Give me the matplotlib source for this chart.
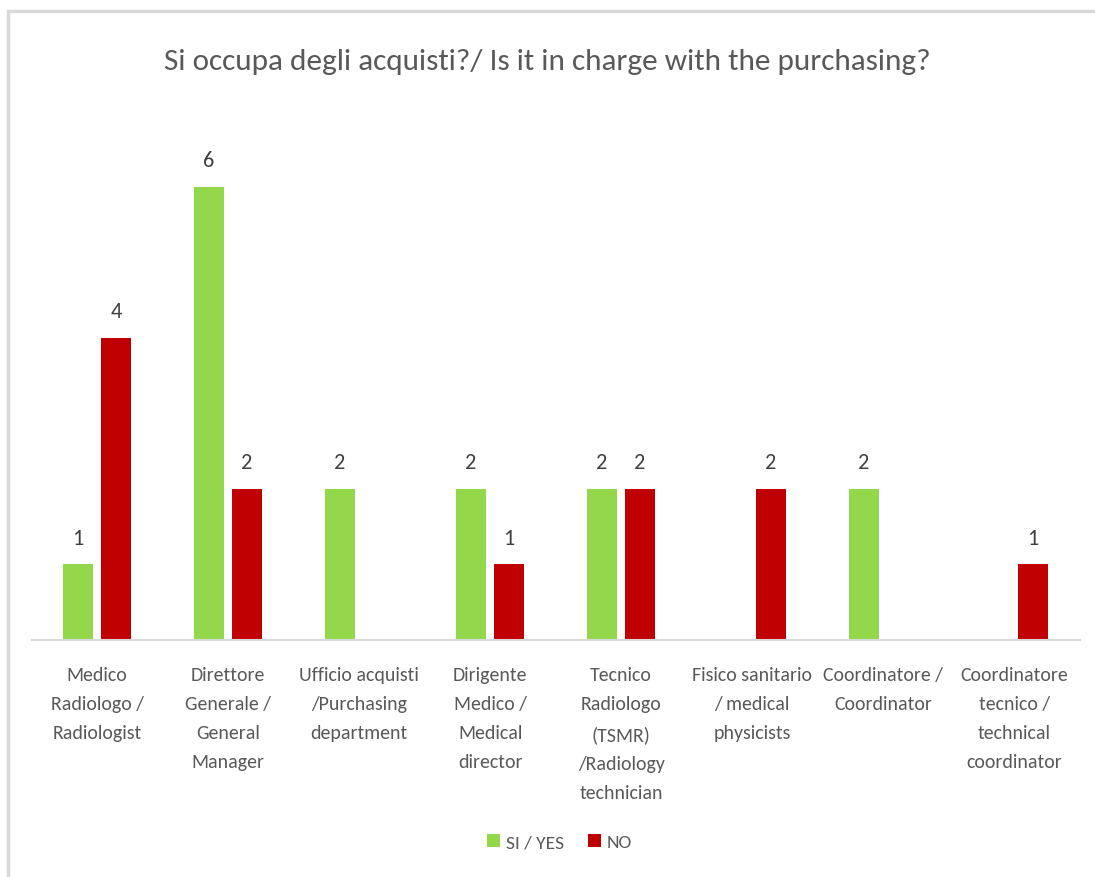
import matplotlib
matplotlib.use("Agg")
import matplotlib.pyplot as plt
from matplotlib.patches import Rectangle
import numpy as np

categories = [
    "Medico\nRadiologo /\nRadiologist",
    "Direttore\nGenerale /\nGeneral\nManager",
    "Ufficio acquisti\n/Purchasing\ndepartment",
    "Dirigente\nMedico /\nMedical\ndirector",
    "Tecnico\nRadiologo\n(TSMR)\n/Radiology\ntechnician",
    "Fisico sanitario\n/ medical\nphysicists",
    "Coordinatore /\nCoordinator",
    "Coordinatore\ntecnico /\ntechnical\ncoordinator",
]
yes_values = [1, 6, 2, 2, 2, None, 2, None]
no_values = [4, 2, None, 1, 2, 2, None, 1]
series_names = ["SI / YES", "NO"]
title = "Si occupa degli acquisti?/ Is it in charge with the purchasing?"

plt.rcParams["font.family"] = ["Carlito", "Open Sans", "DejaVu Sans"]

TXT = "#595959"
GREEN = "#92D84A"
RED = "#C00000"

fig = plt.figure(figsize=(10.95, 8.78), dpi=100)
ax = fig.add_axes([0.0288, 0.270, 0.9572, 0.602])

x = np.arange(len(categories))
w = 0.229
off = 0.145
yv = [v if v is not None else 0 for v in yes_values]
nv = [v if v is not None else 0 for v in no_values]
b1 = ax.bar(x - off, yv, w, color=GREEN, label=series_names[0])
b2 = ax.bar(x + off, nv, w, color=RED, label=series_names[1])

for xs, vals in ((x - off, yes_values), (x + off, no_values)):
    for xi, v in zip(xs, vals):
        if v is not None:
            ax.annotate(str(v), (xi, v), xytext=(0, 12), textcoords="offset points",
                        ha="center", va="bottom", fontsize=16, color="#404040")

ax.set_xlim(-0.5, len(categories) - 0.5)
ax.set_ylim(0, 7)
ax.set_yticks([])
ax.set_xticks(x)
ax.set_xticklabels(categories, fontsize=14.3, color=TXT, linespacing=1.86, va="top")
ax.tick_params(axis="x", length=0, pad=19)
for s in ("top", "right", "left"):
    ax.spines[s].set_visible(False)
ax.spines["bottom"].set_color("#D9D9D9")
ax.spines["bottom"].set_linewidth(1.5)

fig.text(0.5, 1 - 62 / 878, title, ha="center", va="center", fontsize=22.5, color=TXT)

leg = fig.legend(handles=[b1, b2], loc="center", bbox_to_anchor=(0.511, 1 - 843 / 878),
                 ncol=2, frameon=False, fontsize=14, handlelength=0.7, handleheight=0.7,
                 handletextpad=0.3, columnspacing=1.2, labelcolor=TXT)

fig.patches.append(Rectangle((7.5 / 1095, -0.1), 1.2, 1 - 11.5 / 878 + 0.1,
                             transform=fig.transFigure, fill=False,
                             edgecolor="#D9D9D9", linewidth=2.5))

fig.savefig("out.png", dpi=100)
